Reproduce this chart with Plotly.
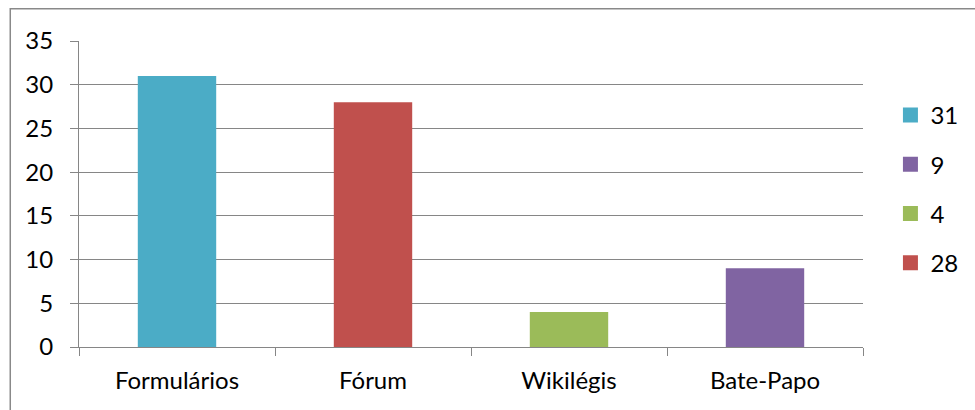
import plotly.graph_objects as go

categories = ["Formulários", "Fórum", "Wikilégis", "Bate-Papo"]
values = [31, 28, 4, 9]
bar_colors = ["#4BACC6", "#C0504D", "#9BBB59", "#8064A2"]

legend_labels = ["31", "9", "4", "28"]
legend_colors = ["#4BACC6", "#8064A2", "#9BBB59", "#C0504D"]

y_ticks = [0, 5, 10, 15, 20, 25, 30, 35]

FONT = "Lato"
GRID = "#868686"
FS = 24

fig = go.Figure()
fig.add_trace(go.Bar(
    x=categories, y=values, marker=dict(color=bar_colors, line=dict(width=0)),
    width=0.4, showlegend=False, hoverinfo="x+y"))

for i, (lab, col) in enumerate(zip(legend_labels, legend_colors)):
    fig.add_trace(go.Scatter(
        x=[None], y=[None], mode="markers", name=lab,
        marker=dict(symbol="square", size=15, color=col),
        legendgroup="g%d" % i, showlegend=True))

fig.update_layout(
    width=975, height=410,
    margin=dict(l=79, r=109, t=41, b=63),
    paper_bgcolor="white", plot_bgcolor="white",
    font=dict(family=FONT, size=FS, color="black"),
    showlegend=True,
    legend=dict(x=1.035, xanchor="left", y=0.83, yanchor="top",
                tracegroupgap=15, font=dict(size=FS, family=FONT),
                bgcolor="rgba(0,0,0,0)", itemwidth=30),
    xaxis=dict(type="category", categoryorder="array", categoryarray=categories,
               showline=True, linecolor=GRID, linewidth=1,
               ticks="outside", tickson="boundaries", ticklen=8, tickcolor=GRID,
               tickwidth=1, showgrid=False, ticklabelstandoff=12,
               tickfont=dict(size=FS, family=FONT)),
    yaxis=dict(range=[0, 35], tickvals=y_ticks, showline=True, linecolor=GRID,
               linewidth=1, showgrid=True, gridcolor=GRID, gridwidth=1,
               ticks="outside", ticklen=8, tickcolor=GRID, tickwidth=1,
               zeroline=False, ticklabelstandoff=12,
               tickfont=dict(size=FS, family=FONT)),
    shapes=[dict(type="rect", xref="paper", yref="paper",
                 x0=(10 - 79) / 787, x1=(1000 - 79) / 787,
                 y0=(347 - 440) / 306, y1=(347.3 - 9) / 306,
                 line=dict(color="#898989", width=1.5), fillcolor="rgba(0,0,0,0)",
                 layer="below")],
)

fig.write_html("out.html")
